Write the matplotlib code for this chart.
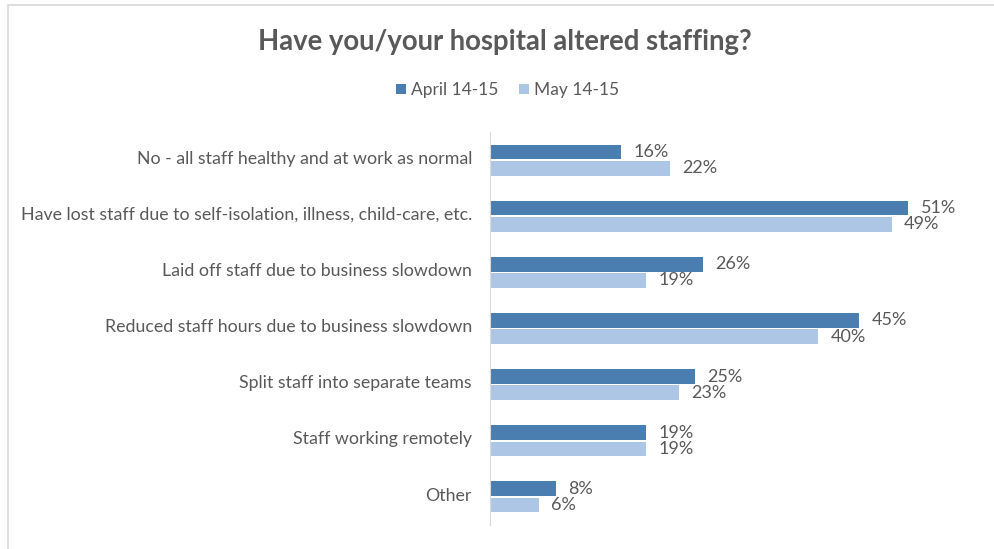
import matplotlib.pyplot as plt
from matplotlib.patches import Rectangle
import numpy as np

categories = [
    "No - all staff healthy and at work as normal",
    "Have lost staff due to self-isolation, illness, child-care, etc.",
    "Laid off staff due to business slowdown",
    "Reduced staff hours due to business slowdown",
    "Split staff into separate teams",
    "Staff working remotely",
    "Other",
]
april = [16, 51, 26, 45, 25, 19, 8]
may = [22, 49, 19, 40, 23, 19, 6]
series_names = ["April 14-15", "May 14-15"]

dark = "#4A7EB0"
light = "#AEC6E6"
grey = "#595959"

plt.rcParams['font.family'] = ['Lato', 'DejaVu Sans']

fig = plt.figure(figsize=(9.95, 5.49), dpi=100)
# outer chart frame (only top and left edges visible)
fig.patches.append(Rectangle((8 / 995, -0.1), 1.2, 1.1 - 5 / 549, transform=fig.transFigure,
                             fill=False, edgecolor="#D9D9D9", linewidth=1.2))

ax = fig.add_axes([490 / 995, 1 - 525 / 549, 451 / 995, 393 / 549])

y = np.arange(len(categories))
h = 0.26
b1 = ax.barh(y - 0.145, april, height=h, color=dark, label=series_names[0])
b2 = ax.barh(y + 0.145, may, height=h, color=light, label=series_names[1])

for bars, vals in [(b1, april), (b2, may)]:
    for bar, v in zip(bars, vals):
        ax.text(v + 1.5, bar.get_y() + bar.get_height() / 2, f"{v}%",
                va="center", ha="left", fontsize=13, color=grey)

ax.set_xlim(0, 55)
ax.set_ylim(len(categories) - 0.5, -0.5)
ax.set_yticks(y - 0.05)
ax.set_yticklabels(categories, fontsize=12.8, color=grey)
ax.tick_params(axis="y", length=0, pad=13)
ax.set_xticks([])
for s in ["top", "right", "bottom"]:
    ax.spines[s].set_visible(False)
ax.spines["left"].set_color("#D9D9D9")

fig.text(0.507, 1 - 42 / 549, "Have you/your hospital altered staffing?", ha="center", va="center",
         fontsize=19.8, fontweight="bold", color=grey)

fig.legend(handles=[b1, b2], loc="center", bbox_to_anchor=(0.51, 1 - 90 / 549), ncol=2,
           frameon=False, fontsize=12.5, labelcolor=grey, handlelength=0.55, handleheight=0.55,
           handletextpad=0.3, columnspacing=1.2)

fig.savefig("out.png", dpi=100)
